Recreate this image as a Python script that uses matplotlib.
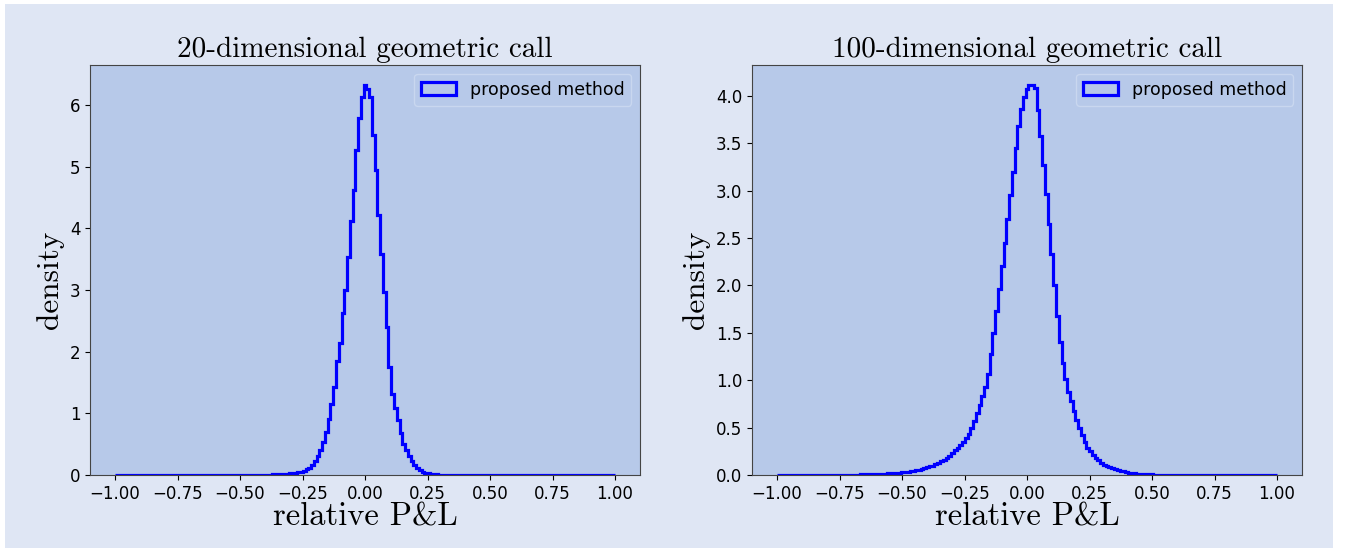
import numpy as np
import matplotlib
matplotlib.use("Agg")
import matplotlib.pyplot as plt
from matplotlib.patches import Rectangle, Patch

# histogram densities, 181 bins over [-1, 1]
# (bin j is centred on j * 2/181, listed from j = -90 to j = 90)
dens_20d = [
    0, 0, 0, 0, 0, 0, 0, 0, 0, 0,
    0, 0, 0, 0, 0, 0, 0, 0, 0, 0,
    0, 0, 0, 0, 0, 0, 0, 0, 0, 0,
    0, 0, 0, 0, 0, 0, 0, 0, 0, 0,
    0.001, 0.001, 0.001, 0.001, 0.001, 0.0015, 0.0015, 0.002, 0.002, 0.0025,
    0.003, 0.0035, 0.004, 0.005, 0.006, 0.007, 0.008, 0.009, 0.011, 0.013,
    0.015, 0.018, 0.021, 0.025, 0.03, 0.037, 0.045, 0.055, 0.07, 0.09,
    0.12, 0.16, 0.23, 0.31, 0.41, 0.53, 0.7, 0.9, 1.15, 1.42,
    1.84, 2.14, 2.62, 3.0, 3.54, 4.11, 4.62, 5.27, 5.79, 6.13,
    6.33, 6.25, 6.13, 5.51, 4.95, 4.22, 3.59, 2.97, 2.40, 1.75,
    1.32, 1.08, 0.89, 0.68, 0.51, 0.41, 0.30, 0.22, 0.16, 0.11,
    0.075, 0.05, 0.035, 0.025, 0.018, 0.013, 0.009, 0.007, 0.005, 0.004,
    0.003, 0.002, 0.0015, 0.001, 0.001, 0.0008, 0, 0, 0, 0,
    0, 0, 0, 0, 0, 0, 0, 0, 0, 0,
    0, 0, 0, 0, 0, 0, 0, 0, 0, 0,
    0, 0, 0, 0, 0, 0, 0, 0, 0, 0,
    0, 0, 0, 0, 0, 0, 0, 0, 0, 0,
    0, 0, 0, 0, 0, 0, 0, 0, 0, 0,
    0,
]

dens_100d = [
    0, 0, 0, 0, 0.0002, 0.0002, 0.0003, 0.0003, 0.0004, 0.0004,
    0.0005, 0.0006, 0.0006, 0.0008, 0.0008, 0.001, 0.001, 0.0012, 0.0014, 0.0016,
    0.0018, 0.002, 0.0022, 0.0025, 0.0028, 0.0032, 0.0036, 0.004, 0.0045, 0.005,
    0.0055, 0.006, 0.0065, 0.007, 0.008, 0.009, 0.01, 0.011, 0.0125, 0.014,
    0.016, 0.018, 0.02, 0.022, 0.025, 0.028, 0.031, 0.035, 0.039, 0.044,
    0.05, 0.056, 0.063, 0.071, 0.08, 0.09, 0.1, 0.112, 0.127, 0.143,
    0.16, 0.18, 0.205, 0.23, 0.26, 0.29, 0.32, 0.35, 0.39, 0.43,
    0.5, 0.57, 0.65, 0.74, 0.83, 0.93, 1.07, 1.28, 1.5, 1.73,
    1.96, 2.2, 2.45, 2.7, 2.95, 3.2, 3.45, 3.68, 3.86, 3.99,
    4.07, 4.12, 4.12, 4.08, 3.85, 3.58, 3.27, 2.96, 2.65, 2.33,
    2.0, 1.68, 1.4, 1.18, 1.01, 0.88, 0.78, 0.68, 0.58, 0.5,
    0.42, 0.35, 0.29, 0.25, 0.21, 0.18, 0.155, 0.13, 0.11, 0.095,
    0.082, 0.07, 0.06, 0.05, 0.043, 0.037, 0.031, 0.026, 0.022, 0.018,
    0.015, 0.012, 0.01, 0.0085, 0.007, 0.006, 0.005, 0.004, 0.0033, 0.0027,
    0.0022, 0.0018, 0.0015, 0.0012, 0.001, 0.0008, 0.0007, 0.0006, 0.0005, 0.0004,
    0.0004, 0.0003, 0.0003, 0.0002, 0.0002, 0.0002, 0.0001, 0.0001, 0.0001, 0,
    0, 0, 0, 0, 0, 0, 0, 0, 0, 0,
    0, 0, 0, 0, 0, 0, 0, 0, 0, 0,
    0,
]

titles = ["20-dimensional geometric call", "100-dimensional geometric call"]
yticks_20d = [0, 1, 2, 3, 4, 5, 6]
yticks_100d = [0.0, 0.5, 1.0, 1.5, 2.0, 2.5, 3.0, 3.5, 4.0]
xticks = [-1.0, -0.75, -0.5, -0.25, 0.0, 0.25, 0.5, 0.75, 1.0]
legend_label = "proposed method"

edges = np.linspace(-1, 1, len(dens_20d) + 1)

ax_bg = "#b7c9e9"
fig_bg = "#dfe6f4"
line_col = "#0000ff"
title_font = {"family": "cmr10", "size": 21}
xlabel_font = {"family": "cmr10", "size": 23.5}
ylabel_font = {"family": "cmr10", "size": 22.5}

fig = plt.figure(figsize=(13.52, 5.5), dpi=100, facecolor="white")
fig.patches.append(Rectangle((5 / 1352, 2 / 550), 1328 / 1352, 544 / 550,
                             transform=fig.transFigure, facecolor=fig_bg,
                             edgecolor="none", zorder=-10))

panels = [(dens_20d, yticks_20d, "{:g}"), (dens_100d, yticks_100d, "{:.1f}")]
lefts = [90 / 1352, 752 / 1352]
ylabel_x = [-0.047, -0.076]

for i, (dens, yt, fmt) in enumerate(panels):
    ax = fig.add_axes([lefts[i], 75 / 550, 550 / 1352, 410 / 550])
    ax.set_facecolor(ax_bg)
    ax.stairs(dens, edges, color=line_col, linewidth=2.3)
    ax.set_xticks(xticks)
    ax.set_xticklabels(["{:.2f}".format(t).replace("-", "\u2212") for t in xticks])
    ax.set_yticks(yt)
    ax.set_yticklabels([fmt.format(t) for t in yt])
    ax.tick_params(labelsize=12)
    for sp in ax.spines.values():
        sp.set_color("#444444")
    ax.set_title(titles[i], fontdict=title_font, pad=6)
    ax.set_xlabel("relative P&L", fontdict=xlabel_font, labelpad=0)
    ax.set_ylabel("density", fontdict=ylabel_font)
    ax.yaxis.set_label_coords(ylabel_x[i], 0.475)
    # histogram-style legend key (outlined box)
    handle = Patch(facecolor="none", edgecolor=line_col, linewidth=2.3)
    ax.legend([handle], [legend_label], loc="upper right", fontsize=12.5,
              facecolor=ax_bg, edgecolor="#c9d7ef", framealpha=1.0,
              handlelength=2.0)

fig.savefig("out.png", dpi=100, facecolor="white")
